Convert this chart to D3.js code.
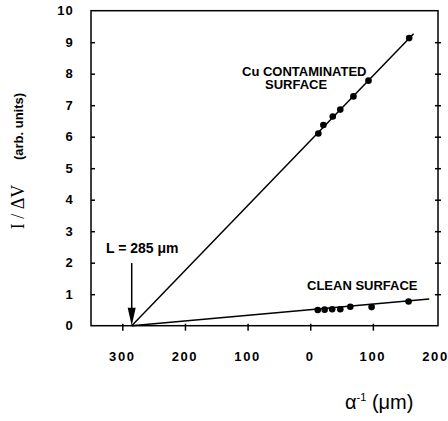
<!DOCTYPE html>
<html>
<head>
<meta charset="utf-8">
<script src="https://cdn.jsdelivr.net/npm/d3@7"></script>
<style>
  html, body { margin: 0; padding: 0; background: #fff; }
  svg { display: block; }
</style>
</head>
<body>
<div id="chart"></div>
<script>
// Inverse absorption length (left of 0 plotted as negative distance) vs I/ΔV
const xTickValues = [-300, -200, -100, 0, 100, 200];
const xTickMarks = [-300, -200, -100, 0, 100];
const yTickValues = [0, 1, 2, 3, 4, 5, 6, 7, 8, 9, 10];
const yTickMarks = [1, 2, 3, 4, 5, 6, 7, 8, 9];

// Cu contaminated surface
const cuX = [13, 21, 36, 48, 69, 93, 158];
const cuY = [6.10, 6.37, 6.64, 6.86, 7.28, 7.78, 9.13];
// Clean surface
const cleanX = [12, 23, 35, 48, 64, 98, 157];
const cleanY = [0.50, 0.51, 0.52, 0.52, 0.60, 0.59, 0.77];

// Linear fits, both extrapolating to -L on the x axis
const interceptL = 285;
const cuFitX = [-interceptL, 165];
const cuFitY = [0, 9.27];
const cleanFitX = [-interceptL, 190];
const cleanFitY = [0, 0.85];

const W = 448, H = 421;
const plot = { left: 91, top: 10.7, right: 438, bottom: 325.7 };

const svg = d3.select("#chart").append("svg")
  .attr("width", W).attr("height", H);

const x = d3.scaleLinear().domain([-350, 204]).range([plot.left, plot.right]);
const y = d3.scaleLinear().domain([0, 10]).range([plot.bottom, plot.top]);

const sans = "Arial, 'Liberation Sans', Helvetica, sans-serif";

// Frame
svg.append("rect")
  .attr("x", plot.left).attr("y", plot.top)
  .attr("width", plot.right - plot.left).attr("height", plot.bottom - plot.top)
  .attr("fill", "none").attr("stroke", "#000").attr("stroke-width", 1.5);

// Bottom axis tick marks
const xAxis = svg.append("g")
  .attr("transform", `translate(0,${plot.bottom})`)
  .call(d3.axisBottom(x).tickValues(xTickMarks).tickSize(5).tickFormat(""));
xAxis.select(".domain").remove();
xAxis.selectAll(".tick line").attr("y1", -2).attr("stroke", "#000").attr("stroke-width", 1.5);

// Bottom tick labels (distances shown as magnitudes)
svg.append("g").selectAll("text")
  .data(xTickValues).join("text")
  .attr("x", d => x(d)).attr("y", 361)
  .attr("text-anchor", "middle")
  .attr("font-family", sans)
  .attr("font-weight", "bold").attr("font-size", 13)
  .attr("letter-spacing", 1.6)
  .text(d => Math.abs(d));

// Left axis tick marks
const yAxisL = svg.append("g")
  .attr("transform", `translate(${plot.left},0)`)
  .call(d3.axisLeft(y).tickValues(yTickMarks).tickSize(4).tickFormat(""));
yAxisL.select(".domain").remove();
yAxisL.selectAll(".tick line").attr("x2", 4).attr("stroke", "#000").attr("stroke-width", 1.5);

// Right axis tick marks
const yAxisR = svg.append("g")
  .attr("transform", `translate(${plot.right},0)`)
  .call(d3.axisRight(y).tickValues(yTickMarks).tickSize(3).tickFormat(""));
yAxisR.select(".domain").remove();
yAxisR.selectAll(".tick line").attr("x1", -3).attr("stroke", "#000").attr("stroke-width", 1.5);

// Left tick labels
svg.append("g").selectAll("text")
  .data(yTickValues).join("text")
  .attr("x", 74).attr("y", d => y(d) + 4.7)
  .attr("text-anchor", "end")
  .attr("font-family", sans)
  .attr("font-weight", "bold").attr("font-size", 13)
  .attr("letter-spacing", 1.2)
  .text(d => d);

// Fit lines
const line = d3.line().x(d => x(d[0])).y(d => y(d[1]));
[[cuFitX, cuFitY], [cleanFitX, cleanFitY]].forEach(([fx, fy]) => {
  svg.append("path")
    .datum(fx.map((v, i) => [v, fy[i]]))
    .attr("d", line)
    .attr("fill", "none").attr("stroke", "#000").attr("stroke-width", 1.5);
});

// Data points
[[cuX, cuY], [cleanX, cleanY]].forEach(([xs, ys]) => {
  svg.append("g").selectAll("circle")
    .data(xs.map((v, i) => [v, ys[i]])).join("circle")
    .attr("cx", d => x(d[0])).attr("cy", d => y(d[1]))
    .attr("r", 3.3).attr("fill", "#000");
});

// Arrow marking the intercept L
const ax = x(-interceptL);
svg.append("line")
  .attr("x1", ax).attr("x2", ax)
  .attr("y1", 263).attr("y2", plot.bottom - 14)
  .attr("stroke", "#000").attr("stroke-width", 1.5);
svg.append("path")
  .attr("d", `M${ax - 4},${plot.bottom - 18} L${ax + 4},${plot.bottom - 18} L${ax},${plot.bottom} Z`)
  .attr("fill", "#000");

svg.append("text")
  .attr("x", 106).attr("y", 253)
  .attr("font-family", sans).attr("font-weight", "bold").attr("font-size", 14)
  .text("L = 285 μm");

// Series labels
const ann = svg.append("g")
  .attr("font-family", sans).attr("font-weight", "bold").attr("font-size", 13);
ann.append("text").attr("x", 242).attr("y", 75.5).text("Cu CONTAMINATED");
ann.append("text").attr("x", 265).attr("y", 89).text("SURFACE");
ann.append("text").attr("x", 307).attr("y", 290).text("CLEAN SURFACE");

// Y axis title: quantity and units
svg.append("text")
  .attr("transform", "translate(24,207) rotate(-90)")
  .attr("text-anchor", "middle")
  .attr("font-family", "'Liberation Serif', 'Times New Roman', serif")
  .attr("font-size", 18)
  .text("I / ΔV");
svg.append("text")
  .attr("transform", "translate(23,126.5) rotate(-90)")
  .attr("text-anchor", "middle")
  .attr("font-family", sans).attr("font-weight", "bold").attr("font-size", 13)
  .text("(arb. units)");

// X axis title
const xt = svg.append("text")
  .attr("x", 345).attr("y", 409)
  .attr("font-family", sans).attr("font-size", 20);
xt.append("tspan").text("α");
xt.append("tspan").attr("font-size", 11).attr("dy", -8).text("-1");
xt.append("tspan").attr("dy", 8).text(" (μm)");
</script>
</body>
</html>
